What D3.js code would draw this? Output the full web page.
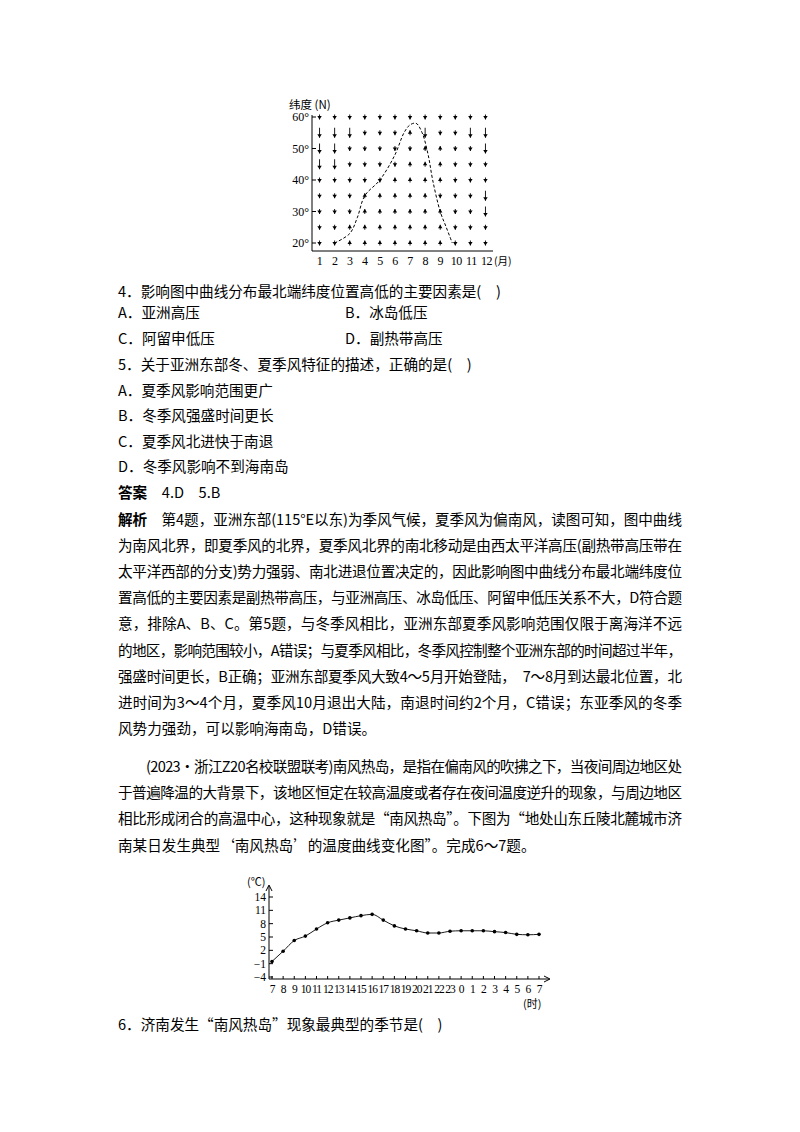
<!DOCTYPE html><html><head><meta charset="utf-8"><script src="https://cdn.jsdelivr.net/npm/d3@7"></script>
<style>body{margin:0;background:#fff}</style></head><body><script>
const months=[1,2,3,4,5,6,7,8,9,10,11,12];
const lats=[60,55,50,45,40,35,30,25,20];
const arrowRows=["dddddddddddd","DDDddduDddDD","DDddddduuddD","DDdddduuudddD","ddddduuuudddD","ddduuuuudddD","ddduuuuuuddD","dduuuuuuuddd","dduuuuuuuddd"];
const curveM=[2,3,3.5,4,5,6,6.6,7,7.4,7.8,8.2,8.5,9,9.4,9.8];
const curveL=[20,23,28,35,40,48,55,57.5,58,55,48,40,30,25,20];
const hours=["7","8","9","10","11","12","13","14","15","16","17","18","19","20","21","22","23","0","1","2","3","4","5","6","7"];
const temps=[-0.5,1.8,4.2,5.2,6.8,8.2,8.8,9.3,9.8,10.1,8.8,7.5,6.8,6.4,5.9,5.9,6.3,6.4,6.4,6.4,6.2,6.0,5.6,5.5,5.6];
const tTicks=[14,11,8,5,2,-1,-4];
const F="'Noto Sans CJK SC','Noto Sans',sans-serif";
const SER="'Liberation Serif','DejaVu Serif',serif";
const svg=d3.select("body").append("svg").attr("width",800).attr("height",1132).style("font-family",F);
// top chart
const x1=d3.scaleLinear().domain([0.5,12.5]).range([312,493]);
const y1=d3.scaleLinear().domain([20,60]).range([243,117]);
const g1=svg.append("g");
g1.append("line").attr("x1",312).attr("x2",312).attr("y1",115).attr("y2",251).attr("stroke","#000");
g1.append("line").attr("x1",312).attr("x2",493).attr("y1",251).attr("y2",251).attr("stroke","#000");
[20,30,40,50,60].forEach(v=>{g1.append("line").attr("x1",312).attr("x2",316).attr("y1",y1(v)).attr("y2",y1(v)).attr("stroke","#000");
 g1.append("text").attr("x",309).attr("y",y1(v)+4).attr("text-anchor","end").attr("font-size",12).attr("font-family",SER).text(v+"°");});
months.forEach(m=>g1.append("text").attr("x",x1(m)+(m>=10?1:0)).attr("y",265).attr("text-anchor","middle").attr("font-size",12).attr("font-family",SER).attr("letter-spacing",-0.5).text(m));
g1.append("text").attr("x",494).attr("y",265).attr("font-size",10.5).text("(月)");
g1.append("text").attr("x",289).attr("y",109).attr("font-size",11.5).text("纬度 (N)");
lats.forEach((la,i)=>months.forEach((m,j)=>{const c=arrowRows[i][j]||"d";const up=c.toLowerCase()==="u";const L=(c==="D"||c==="U")?10:5;
 const cx=x1(m),cy=y1(la);const y0=up?cy+L/2:cy-L/2,yE=up?cy-L/2:cy+L/2;const s=up?-1:1;
 g1.append("line").attr("x1",cx).attr("x2",cx).attr("y1",y0).attr("y2",yE).attr("stroke","#000").attr("stroke-width",0.9);
 g1.append("path").attr("d",`M${cx-2.2},${yE-s*3.5}L${cx},${yE}L${cx+2.2},${yE-s*3.5}Z`).attr("fill","#000");}));
g1.append("path").datum(curveM.map((m,i)=>[m,curveL[i]])).attr("d",d3.line().x(d=>x1(d[0])).y(d=>y1(d[1])).curve(d3.curveCatmullRom)).attr("fill","none").attr("stroke","#000").attr("stroke-dasharray","3,2");
// text
const T=svg.append("g").attr("font-size",14.6).attr("fill","#000");
function line(s,x,y,just,bold){const t=T.append("text").attr("x",x).attr("y",y);if(just)t.attr("textLength",682-x).attr("lengthAdjust","spacing");
 if(bold){t.append("tspan").attr("font-weight","bold").text(bold);}t.append("tspan").text(s);}
line("4．影响图中曲线分布最北端纬度位置高低的主要因素是(　)",118,297);
line("A．亚洲高压",118,318);line("B．冰岛低压",345,318);
line("C．阿留申低压",118,344);line("D．副热带高压",345,344);
line("5．关于亚洲东部冬、夏季风特征的描述，正确的是(　)",118,370);
line("A．夏季风影响范围更广",118,396);line("B．冬季风强盛时间更长",118,421);
line("C．夏季风北进快于南退",118,447);line("D．冬季风影响不到海南岛",118,472);
line("　4.D　5.B",118,498,false,"答案");
const P=["　第4题，亚洲东部(115°E以东)为季风气候，夏季风为偏南风，读图可知，图中曲线",
"为南风北界，即夏季风的北界，夏季风北界的南北移动是由西太平洋高压(副热带高压带在",
"太平洋西部的分支)势力强弱、南北进退位置决定的，因此影响图中曲线分布最北端纬度位",
"置高低的主要因素是副热带高压，与亚洲高压、冰岛低压、阿留申低压关系不大，D符合题",
"意，排除A、B、C。第5题，与冬季风相比，亚洲东部夏季风影响范围仅限于离海洋不远",
"的地区，影响范围较小，A错误；与夏季风相比，冬季风控制整个亚洲东部的时间超过半年，",
"强盛时间更长，B正确；亚洲东部夏季风大致4～5月开始登陆，　7～8月到达最北位置，北",
"进时间为3～4个月，夏季风10月退出大陆，南退时间约2个月，C错误；东亚季风的冬季",
"风势力强劲，可以影响海南岛，D错误。"];
P.forEach((s,i)=>line(s,118,525+i*26.1,i<8,i===0?"解析":null));
const Q=["(2023·浙江Z20名校联盟联考)南风热岛，是指在偏南风的吹拂之下，当夜间周边地区处",
"于普遍降温的大背景下，该地区恒定在较高温度或者存在夜间温度逆升的现象，与周边地区",
"相比形成闭合的高温中心，这种现象就是“南风热岛”。下图为“地处山东丘陵北麓城市济",
"南某日发生典型‘南风热岛’的温度曲线变化图”。完成6～7题。"];
Q.forEach((s,i)=>line(s,i===0?146:118,772+i*26.2,i<3));
line("6．济南发生“南风热岛”现象最典型的季节是(　)",118,1030);
// bottom chart
const x2=d3.scalePoint().domain(d3.range(hours.length)).range([272,539]);
const y2=d3.scaleLinear().domain([-4,14]).range([977,897]);
const g2=svg.append("g");
g2.append("line").attr("x1",269).attr("x2",269).attr("y1",886).attr("y2",979).attr("stroke","#000");
g2.append("path").attr("d","M266,891L269,885L272,891").attr("fill","none").attr("stroke","#000");
g2.append("line").attr("x1",269).attr("x2",549).attr("y1",979).attr("y2",979).attr("stroke","#000");
g2.append("path").attr("d","M544,976L550,979L544,982").attr("fill","none").attr("stroke","#000");
tTicks.forEach(v=>{g2.append("line").attr("x1",269).attr("x2",273).attr("y1",y2(v)).attr("y2",y2(v)).attr("stroke","#000");
 g2.append("text").attr("x",266).attr("y",y2(v)+4).attr("text-anchor","end").attr("font-size",11.5).attr("font-family",SER).text(v<0?"−"+(-v):v);});
hours.forEach((h,i)=>{g2.append("line").attr("x1",x2(i)).attr("x2",x2(i)).attr("y1",979).attr("y2",976).attr("stroke","#000");
 g2.append("text").attr("x",x2(i)).attr("y",993).attr("text-anchor","middle").attr("font-size",11.5).attr("font-family",SER).attr("letter-spacing",-1).text(h);});
g2.append("text").attr("x",247).attr("y",886).attr("font-size",11).text("(℃)");
g2.append("text").attr("x",523).attr("y",1008).attr("font-size",11).text("(时)");
g2.append("path").datum(temps).attr("d",d3.line().x((d,i)=>x2(i)).y(d=>y2(d)).curve(d3.curveMonotoneX)).attr("fill","none").attr("stroke","#000").attr("stroke-width",0.9);
g2.selectAll("circle").data(temps).join("circle").attr("cx",(d,i)=>x2(i)).attr("cy",d=>y2(d)).attr("r",1.8).attr("fill","#000");
</script></body></html>
